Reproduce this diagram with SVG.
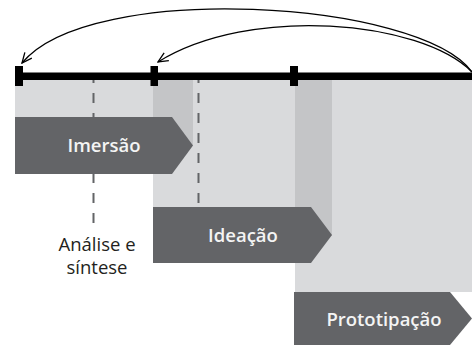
<svg xmlns="http://www.w3.org/2000/svg" width="472" height="346" viewBox="0 0 472 346">
<defs>
<style>
.light{fill:#d9dadc}
.dark{fill:#c4c5c7}
.phase{fill:#636467}
.plabel{font-family:"Open Sans","Noto Sans",sans-serif;font-weight:600;font-size:18.5px;fill:#f4f4f4;text-anchor:middle}
.note{font-family:"Open Sans","Noto Sans",sans-serif;font-size:18.5px;fill:#231f20;text-anchor:middle}
.dash{stroke:#636467;stroke-width:2;stroke-dasharray:10 10;fill:none}
.conn{stroke:#000;stroke-width:1.3;fill:none;marker-end:url(#arr)}
</style>
<marker id="arr" viewBox="0 0 12 12" refX="11" refY="6" markerWidth="12" markerHeight="12" markerUnits="userSpaceOnUse" orient="auto">
<path d="M1,1.5 L11,6 L1,10.5" fill="none" stroke="#000" stroke-width="1.3"/>
</marker>
</defs>
<g id="background">
<rect class="light" x="15" y="80" width="457" height="37"/>
<rect class="light" x="153" y="80" width="319" height="127"/>
<rect class="light" x="295" y="80" width="177" height="212"/>
<rect class="dark" x="153" y="80" width="40" height="66"/>
<rect class="dark" x="295" y="80" width="37" height="156"/>
</g>
<g id="dashes">
<line class="dash" x1="93.5" y1="73" x2="93.5" y2="224"/>
<line class="dash" x1="198.5" y1="73" x2="198.5" y2="207"/>
</g>
<g id="timeline">
<rect x="15" y="72.5" width="457" height="7.5" fill="#000"/>
<rect x="15" y="66" width="8" height="20" fill="#000"/>
<rect x="150.5" y="66" width="7.5" height="20" fill="#000"/>
<rect x="290" y="66" width="8" height="20" fill="#000"/>
</g>
<g id="imersao">
<polygon class="phase" points="15,117 172,117 193,145.5 172,174 15,174"/>
<text class="plabel" x="104" y="152">Imersão</text>
</g>
<g id="ideacao">
<polygon class="phase" points="153,207 311,207 332,235 311,263 153,263"/>
<text class="plabel" x="243" y="242">Ideação</text>
</g>
<g id="prototipacao">
<polygon class="phase" points="294,292 450,292 472,318.5 450,345 294,345"/>
<text class="plabel" x="384" y="326">Prototipação</text>
</g>
<g id="analise">
<text class="note" x="97" y="251">Análise e</text>
<text class="note" x="97" y="274">síntese</text>
</g>
<g id="connectors">
<path class="conn" d="M472,72 C420,0 90,-20 22,63"/>
<path class="conn" d="M472,72 C420,20 250,5 158,62"/>
</g>
</svg>
